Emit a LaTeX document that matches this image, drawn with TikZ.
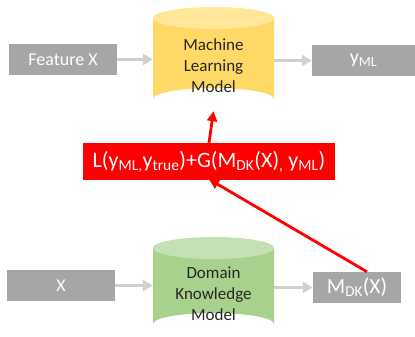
\documentclass[tikz,border=0pt]{standalone}
\usepackage{fontspec}
\setmainfont{Carlito}
\usetikzlibrary{arrows.meta}
\definecolor{boxgray}{HTML}{A6A6A6}
\definecolor{arrgray}{HTML}{D0D0D0}
\definecolor{mlbody}{HTML}{FFD966}
\definecolor{mltop}{HTML}{FFE699}
\definecolor{dkbody}{HTML}{A9D18E}
\definecolor{dktop}{HTML}{C5E0B4}
\definecolor{lossred}{HTML}{FF0000}
\definecolor{darktext}{HTML}{262626}
\begin{document}
\begin{tikzpicture}[x=1pt,y=-1pt,
  graybox/.style={fill=boxgray,text=white,inner sep=0pt,minimum height=31pt},
  cyltext/.style={text=darktext,align=center,inner sep=0pt,minimum width=121pt,
    font=\fontsize{17}{21}\selectfont},
  grayarrow/.style={draw=arrgray,line width=3pt,-{Triangle[length=10pt,width=11pt]}},
  redarrow/.style={draw=lossred,line width=2.8pt,-{Triangle[length=10pt,width=10pt]}}]
\useasboundingbox (0,0) rectangle (415,337);
% cylinders
\fill[mlbody] (153,18) -- (153,99) arc[start angle=180,end angle=360,x radius=60.5,y radius=11] -- (274,18) -- cycle;
\fill[mltop] (213.5,18) ellipse[x radius=60.5,y radius=11];
\fill[dkbody] (153,248) -- (153,324) arc[start angle=180,end angle=360,x radius=60.5,y radius=11] -- (274,248) -- cycle;
\fill[dktop] (213.5,248) ellipse[x radius=60.5,y radius=11];
% nodes
\node[cyltext,minimum height=90pt] (ml) at (213.5,66) {Machine\\Learning\\Model};
\node[cyltext] (dk) at (213.5,294) {Domain\\Knowledge\\Model};
\node[graybox,minimum width=108pt,font=\fontsize{18}{20}\selectfont] (fx) at (63,59.5) {Feature X};
\node[graybox,minimum width=103pt,font=\fontsize{20}{22}\selectfont] (yml) at (363.5,60.5) {y\textsubscript{ML}};
\node[graybox,minimum width=108pt,font=\fontsize{18}{20}\selectfont] (x) at (61,285.5) {X};
\node[graybox,minimum width=88pt,font=\fontsize{21.5}{23}\selectfont] (mdk) at (357,287.5) {M\textsubscript{DK}(X)};
\node[fill=lossred,text=white,inner sep=0pt,minimum width=252pt,minimum height=37pt,
  font=\fontsize{22}{24}\selectfont] (loss) at (209,161.5)
  {L(y\textsubscript{ML,}y\textsubscript{true})+G(M\textsubscript{DK}(X)\textsubscript{,} y\textsubscript{ML})};
\coordinate (mdkout) at ([xshift=10pt]mdk.north);
% connectors
\draw[grayarrow] (fx.east) -- (fx.east -| ml.west);
\draw[grayarrow] (ml.east |- yml.west) -- (yml.west);
\draw[grayarrow] (x.east) -- (x.east -| dk.west);
\draw[grayarrow] (dk.east |- mdk.west) -- (mdk.west);
\draw[redarrow] (loss.north) -- (ml.south);
\draw[redarrow] (mdkout) -- ([yshift=1pt]loss.south);
\end{tikzpicture}
\end{document}
